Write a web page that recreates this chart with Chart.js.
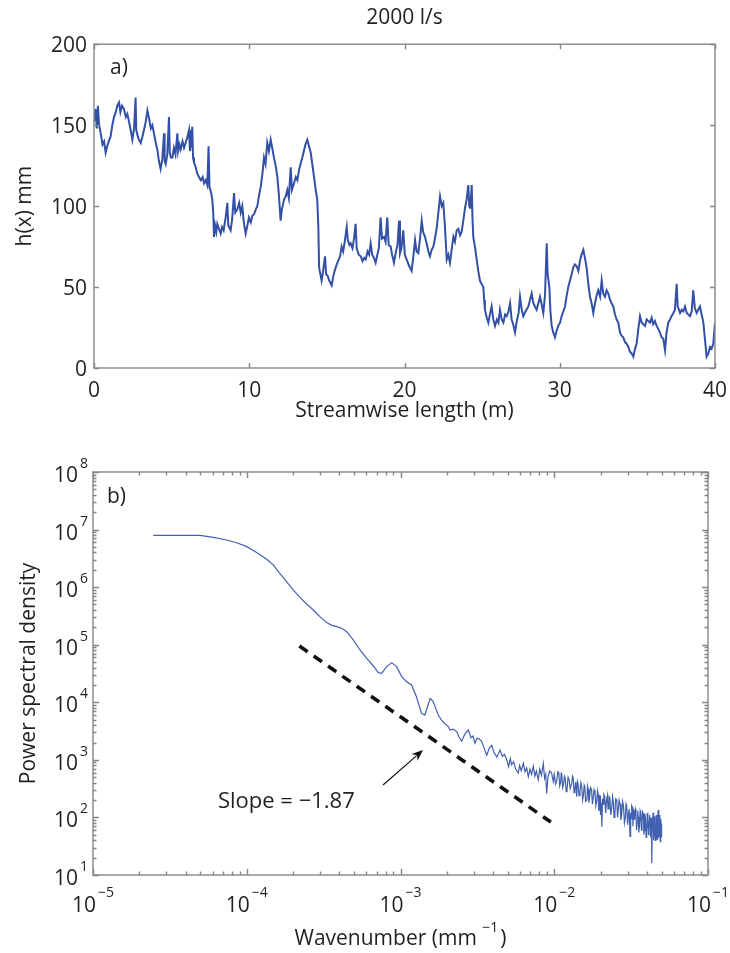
<!DOCTYPE html>
<html>
<head>
<meta charset="utf-8">
<title>Bed profile and spectrum, 2000 l/s</title>
<script src="https://cdn.jsdelivr.net/npm/chart.js@4.4.0/dist/chart.umd.min.js"></script>
<style>
    html, body { margin: 0; padding: 0; background: #fff; }
    #page { position: relative; width: 730px; height: 953px; }
    #profile-chart { position: absolute; left: 0; top: 0; }
    #spectrum-chart { position: absolute; left: 0; top: 430px; }
</style>
</head>
<body>
<div id="page">
    <canvas id="profile-chart" width="730" height="430"></canvas>
    <canvas id="spectrum-chart" width="730" height="523"></canvas>
</div>
<script>
// Bed elevation along the flume (m, mm)
const lengthM = [
    0.00, 0.10, 0.18, 0.25, 0.33, 0.43, 0.55, 0.65, 0.75, 0.85,
    0.95, 1.07, 1.18, 1.29, 1.40, 1.50, 1.61, 1.70, 1.80, 1.93,
    2.05, 2.15, 2.30, 2.40, 2.47, 2.58, 2.68, 2.72, 2.85, 3.01,
    3.12, 3.22, 3.33, 3.44, 3.55, 3.66, 3.76, 3.90, 4.00, 4.08,
    4.18, 4.29, 4.40, 4.51, 4.55, 4.62, 4.72, 4.83, 4.88, 4.95,
    5.05, 5.15, 5.25, 5.37, 5.42, 5.50, 5.58, 5.70, 5.80, 5.90,
    6.00, 6.12, 6.18, 6.25, 6.33, 6.38, 6.44, 6.55, 6.65, 6.76,
    6.88, 7.00, 7.09, 7.20, 7.30, 7.38, 7.44, 7.55, 7.62, 7.68,
    7.73, 7.80, 7.88, 7.94, 8.05, 8.16, 8.25, 8.35, 8.48, 8.59,
    8.65, 8.80, 8.90, 9.02, 9.10, 9.23, 9.35, 9.45, 9.55, 9.65,
    9.77, 9.88, 9.98, 10.10, 10.20, 10.31, 10.42, 10.52, 10.62, 10.74,
    10.85, 10.95, 11.05, 11.16, 11.27, 11.38, 11.48, 11.59, 11.70, 11.81,
    11.90, 12.02, 12.10, 12.24, 12.35, 12.45, 12.55, 12.67, 12.75, 12.88,
    13.00, 13.10, 13.20, 13.30, 13.42, 13.52, 13.62, 13.74, 13.85, 13.96,
    14.06, 14.17, 14.28, 14.38, 14.45, 14.50, 14.58, 14.66, 14.76, 14.88,
    14.95, 15.05, 15.15, 15.31, 15.40, 15.50, 15.60, 15.72, 15.85, 15.95,
    16.05, 16.15, 16.28, 16.35, 16.45, 16.53, 16.65, 16.75, 16.85, 16.92,
    17.05, 17.18, 17.30, 17.40, 17.50, 17.62, 17.72, 17.82, 17.92, 18.03,
    18.14, 18.25, 18.35, 18.46, 18.55, 18.68, 18.78, 18.89, 18.98, 19.11,
    19.20, 19.32, 19.45, 19.55, 19.65, 19.71, 19.80, 19.92, 20.02, 20.14,
    20.30, 20.46, 20.56, 20.68, 20.78, 20.89, 21.00, 21.11, 21.20, 21.32,
    21.45, 21.54, 21.64, 21.75, 21.86, 21.96, 22.07, 22.18, 22.29, 22.40,
    22.50, 22.60, 22.72, 22.82, 22.93, 23.05, 23.15, 23.25, 23.36, 23.47,
    23.58, 23.68, 23.80, 23.90, 24.00, 24.11, 24.17, 24.22, 24.28, 24.33,
    24.38, 24.43, 24.55, 24.65, 24.75, 24.86, 24.96, 25.08, 25.13, 25.18,
    25.30, 25.40, 25.50, 25.61, 25.72, 25.83, 25.95, 26.05, 26.15, 26.26,
    26.37, 26.48, 26.58, 26.70, 26.80, 26.90, 27.00, 27.12, 27.25, 27.35,
    27.44, 27.55, 27.65, 27.80, 27.98, 28.08, 28.19, 28.30, 28.40, 28.51,
    28.62, 28.73, 28.84, 28.94, 29.05, 29.16, 29.22, 29.33, 29.40, 29.48,
    29.58, 29.69, 29.80, 29.90, 30.02, 30.12, 30.23, 30.34, 30.45, 30.55,
    30.66, 30.77, 30.87, 30.97, 31.08, 31.20, 31.30, 31.40, 31.52, 31.62,
    31.73, 31.84, 31.95, 32.05, 32.16, 32.27, 32.38, 32.48, 32.60, 32.70,
    32.80, 32.91, 33.02, 33.13, 33.24, 33.34, 33.45, 33.56, 33.66, 33.77,
    33.88, 33.98, 34.09, 34.20, 34.31, 34.42, 34.52, 34.63, 34.74, 34.85,
    34.95, 35.06, 35.17, 35.28, 35.38, 35.49, 35.60, 35.70, 35.81, 35.92,
    36.02, 36.13, 36.24, 36.35, 36.45, 36.56, 36.67, 36.78, 36.88, 36.99,
    37.10, 37.20, 37.32, 37.42, 37.53, 37.60, 37.75, 37.86, 37.96, 38.07,
    38.18, 38.28, 38.39, 38.50, 38.60, 38.70, 38.82, 38.92, 39.03, 39.14,
    39.25, 39.35, 39.46, 39.57, 39.68, 39.78, 39.89, 40.00
];
const heightMm = [
    152, 160, 148, 162, 150, 145, 138, 140, 133, 137,
    140, 143, 150, 155, 158, 162, 164, 158, 162, 160,
    155, 157, 150, 145, 141, 148, 167, 147, 142, 139,
    143, 147, 152, 159, 154, 148, 150, 143, 138, 135,
    128, 123, 129, 145, 128, 126, 132, 155, 133, 130,
    130, 136, 132, 145, 134, 138, 135, 140, 136, 139,
    142, 147, 134, 138, 149, 130, 127, 124, 120, 118,
    116, 118, 114, 116, 113, 137, 112, 108, 104, 96,
    81, 88, 84, 89, 86, 83, 87, 85, 93, 102,
    88, 85, 92, 108, 96, 98, 102, 96, 100, 90,
    83, 88, 93, 90, 94, 95, 98, 100, 106, 112,
    120, 130, 126, 139, 134, 141, 136, 130, 125, 118,
    108, 91, 98, 104, 106, 110, 105, 124, 110, 114,
    118, 116, 122, 126, 130, 134, 138, 141, 137, 133,
    126, 118, 110, 104, 87, 62, 58, 54, 60, 69,
    58, 57, 54, 51, 56, 60, 63, 66, 69, 75,
    72, 78, 87, 79, 76, 77, 74, 80, 89, 74,
    70, 69, 66, 68, 67, 72, 70, 77, 70, 68,
    65, 70, 74, 93, 80, 81, 78, 93, 76, 75,
    70, 65, 72, 76, 91, 71, 74, 85, 70, 67,
    63, 60, 68, 79, 72, 71, 80, 91, 84, 81,
    76, 72, 69, 73, 75, 80, 86, 96, 106, 100,
    102, 88, 67, 70, 65, 74, 81, 78, 85, 86,
    82, 84, 92, 99, 104, 113, 100, 99, 105, 113,
    92, 81, 74, 67, 60, 54, 52, 50, 42, 36,
    31, 28, 33, 38, 30, 26, 30, 28, 36, 30,
    28, 33, 32, 35, 40, 30, 27, 22, 30, 34,
    44, 36, 32, 35, 38, 42, 46, 40, 38, 36,
    40, 44, 39, 34, 45, 77, 58, 50, 35, 26,
    22, 19, 23, 26, 28, 32, 35, 38, 45, 50,
    54, 58, 62, 64, 63, 60, 66, 70, 73, 68,
    62, 52, 44, 40, 34, 40, 45, 48, 44, 54,
    46, 44, 48, 46, 42, 40, 38, 33, 30, 28,
    22, 20, 19, 16, 15, 13, 10, 9, 7, 12,
    15, 24, 32, 28, 27, 26, 30, 29, 28, 31,
    27, 29, 26, 24, 22, 19, 18, 11, 22, 28,
    30, 32, 34, 36, 52, 38, 34, 36, 35, 38,
    34, 33, 32, 35, 48, 37, 34, 36, 38, 33,
    28, 18, 7, 9, 13, 12, 15, 28
];
const lengthTicks = [0, 10, 20, 30, 40];
const heightTicks = [0, 50, 100, 150, 200];

// Power spectral density against wavenumber (mm^-1)
const wavenumber = [
    2.47e-5, 3.33e-5, 4.97e-5, 6.06e-5, 7.40e-5, 8.60e-5, 1.00e-4, 1.16e-4, 1.35e-4, 1.49e-4,
    1.64e-4, 1.82e-4, 2.01e-4, 2.22e-4, 2.45e-4, 2.71e-4, 2.99e-4, 3.31e-4, 3.57e-4, 3.85e-4,
    4.14e-4, 4.47e-4, 4.93e-4, 5.45e-4, 6.03e-4, 6.66e-4, 7.18e-4, 7.54e-4, 8.13e-4, 8.76e-4,
    9.44e-4, 1.018e-3, 1.096e-3, 1.18e-3, 1.27e-3, 1.37e-3, 1.44e-3, 1.56e-3, 1.63e-3, 1.76e-3,
    1.85e-3, 1.95e-3, 2.03e-3, 2.10e-3, 2.20e-3, 2.32e-3, 2.40e-3, 2.50e-3, 2.62e-3, 2.76e-3,
    2.88e-3, 2.96e-3, 3.05e-3, 3.15e-3, 3.25e-3, 3.37e-3, 3.50e-3, 3.64e-3, 3.78e-3, 3.92e-3,
    4.05e-3, 4.23e-3, 4.35e-3, 4.44e-3, 4.60e-3, 4.75e-3, 4.91e-3, 5.05e-3, 5.18e-3, 5.28e-3,
    5.45e-3, 5.60e-3, 5.83e-3, 5.95e-3, 6.10e-3, 6.30e-3, 6.45e-3, 6.62e-3, 6.78e-3, 6.95e-3,
    7.12e-3, 7.31e-3, 7.48e-3, 7.65e-3, 7.87e-3, 8.05e-3, 8.25e-3, 8.49e-3, 8.65e-3, 8.80e-3,
    8.93e-3, 9.10e-3, 9.35e-3, 9.62e-3, 9.85e-3,
    1.00e-2, 1.02e-2, 1.04e-2, 1.055e-2, 1.07e-2, 1.085e-2, 1.10e-2, 1.11e-2, 1.12e-2, 1.135e-2,
    1.15e-2, 1.165e-2, 1.18e-2, 1.195e-2, 1.21e-2, 1.23e-2, 1.25e-2, 1.27e-2, 1.30e-2, 1.315e-2,
    1.33e-2, 1.345e-2, 1.36e-2, 1.38e-2, 1.40e-2, 1.415e-2, 1.43e-2, 1.45e-2, 1.47e-2, 1.49e-2,
    1.51e-2, 1.53e-2, 1.55e-2, 1.565e-2, 1.58e-2, 1.60e-2, 1.63e-2, 1.645e-2, 1.66e-2, 1.68e-2,
    1.70e-2, 1.72e-2, 1.75e-2, 1.77e-2, 1.79e-2, 1.815e-2, 1.84e-2, 1.865e-2, 1.89e-2, 1.91e-2,
    1.93e-2, 1.95e-2, 1.97e-2, 1.985e-2, 2.00e-2, 2.02e-2, 2.04e-2, 2.06e-2, 2.08e-2, 2.10e-2,
    2.13e-2, 2.16e-2, 2.19e-2, 2.215e-2, 2.24e-2, 2.27e-2, 2.30e-2, 2.33e-2, 2.37e-2, 2.395e-2,
    2.42e-2, 2.45e-2, 2.48e-2, 2.51e-2, 2.55e-2, 2.58e-2, 2.61e-2, 2.64e-2, 2.68e-2, 2.71e-2,
    2.75e-2, 2.78e-2, 2.82e-2, 2.86e-2, 2.90e-2, 2.93e-2, 2.96e-2, 3.00e-2, 3.03e-2, 3.07e-2,
    3.11e-2, 3.14e-2, 3.16e-2, 3.19e-2, 3.22e-2, 3.25e-2, 3.27e-2, 3.30e-2, 3.33e-2, 3.37e-2,
    3.40e-2, 3.43e-2, 3.46e-2, 3.49e-2, 3.52e-2, 3.55e-2, 3.58e-2, 3.62e-2, 3.65e-2, 3.69e-2,
    3.72e-2, 3.75e-2, 3.79e-2, 3.83e-2, 3.86e-2, 3.89e-2, 3.92e-2, 3.96e-2, 3.99e-2, 4.03e-2,
    4.06e-2, 4.10e-2, 4.13e-2, 4.17e-2, 4.20e-2, 4.23e-2, 4.25e-2, 4.28e-2, 4.31e-2, 4.34e-2,
    4.36e-2, 4.39e-2, 4.42e-2, 4.45e-2, 4.47e-2, 4.50e-2, 4.52e-2, 4.55e-2, 4.58e-2, 4.61e-2,
    4.63e-2, 4.66e-2, 4.69e-2, 4.72e-2, 4.75e-2, 4.78e-2, 4.80e-2, 4.83e-2, 4.86e-2, 4.89e-2,
    4.91e-2, 4.94e-2, 4.96e-2, 4.98e-2, 5.00e-2
];
const psd = [
    7.9e6, 7.95e6, 7.9e6, 7.3e6, 6.6e6, 5.9e6, 5.05e6, 4.0e6, 3.04e6, 2.42e6,
    1.74e6, 1.24e6, 8.9e5, 6.65e5, 5.1e5, 4.0e5, 3.07e5, 2.42e5, 2.17e5, 2.06e5,
    1.93e5, 1.68e5, 1.21e5, 8.1e4, 5.8e4, 4.27e4, 3.27e4, 3.18e4, 4.16e4, 4.88e4,
    4.16e4, 2.79e4, 2.28e4, 2.0e4, 1.25e4, 6.4e3, 6.0e3, 1.17e4, 1.03e4, 6.0e3,
    4.9e3, 4.2e3, 3.9e3, 3.3e3, 3.4e3, 3.1e3, 2.5e3, 2.1e3, 2.8e3, 3.3e3,
    2.4e3, 2.6e3, 1.95e3, 2.4e3, 2.3e3, 2.1e3, 1.6e3, 1.2e3, 1.6e3, 1.8e3,
    1.35e3, 1.12e3, 1.3e3, 1.48e3, 1.15e3, 1.25e3, 1.0e3, 760, 1050, 820,
    930, 700, 590, 800, 650, 870, 620, 720, 510, 690,
    560, 780, 520, 640, 450, 700, 540, 870, 480, 560,
    260, 500, 640, 590, 420,
    560, 380, 450, 620, 600, 350, 400, 580, 550, 330,
    380, 520, 470, 280, 300, 500, 450, 320, 390, 520,
    480, 270, 300, 410, 230, 420, 380, 240, 280, 400,
    340, 200, 250, 360, 330, 190, 200, 350, 310, 180,
    230, 330, 300, 170, 210, 300, 260, 160, 200, 290,
    250, 130, 150, 240, 110, 180, 69, 210, 170, 250,
    230, 120, 200, 240, 140, 230, 220, 110, 155, 230,
    190, 100, 120, 210, 200, 100, 140, 200, 170, 90,
    117, 190, 160, 80, 100, 170, 155, 75, 110, 140,
    47, 120, 95, 160, 150, 70, 135, 110, 90, 140,
    125, 60, 80, 130, 102, 55, 70, 130, 120, 60,
    85, 125, 117, 50, 60, 115, 95, 45, 52, 120,
    100, 50, 65, 110, 89, 45, 55, 100, 16, 90,
    60, 120, 110, 40, 55, 105, 79, 40, 45, 110,
    90, 42, 50, 100, 135, 45, 55, 110, 85, 38,
    40, 95, 75, 45, 69
];
// fitted power law, slope -1.87
const slopeK = [2.2e-4, 9.5e-3];
const slopePsd = [9.5e4, 83];
const slopeLabel = 'Slope = \u22121.87';
const wavenumberExps = [-5, -4, -3, -2, -1];
const psdExps = [1, 2, 3, 4, 5, 6, 7, 8];

const FONT = '"Open Sans", "DejaVu Sans", sans-serif';
const INK = '#231f20';
const AXIS = '#868686';
const PROFILE_BLUE = 'rgb(50, 80, 165)';
const SPECTRUM_BLUE = 'rgb(66, 96, 176)';

Chart.defaults.font.family = FONT;
Chart.defaults.color = INK;

function fnt(size) {
    return size + 'px ' + FONT;
}

// MATLAB style box with inward ticks on all four sides
function drawBox(chart, xMarks, yMarks) {
    const { ctx, chartArea: a, scales } = chart;
    ctx.save();
    ctx.strokeStyle = AXIS;
    ctx.lineWidth = 1.4;
    ctx.beginPath();
    xMarks.forEach(([v, len]) => {
        const x = Math.round(scales.x.getPixelForValue(v)) + 0.5;
        ctx.moveTo(x, a.bottom); ctx.lineTo(x, a.bottom - len);
        ctx.moveTo(x, a.top); ctx.lineTo(x, a.top + len);
    });
    yMarks.forEach(([v, len]) => {
        const y = Math.round(scales.y.getPixelForValue(v)) + 0.5;
        ctx.moveTo(a.left, y); ctx.lineTo(a.left + len, y);
        ctx.moveTo(a.right, y); ctx.lineTo(a.right - len, y);
    });
    ctx.stroke();
    ctx.strokeRect(a.left, a.top, a.right - a.left, a.bottom - a.top);
    ctx.restore();
}

function logMarks(fromExp, toExp) {
    const marks = [];
    for (let e = fromExp; e <= toExp; e++) {
        marks.push([Math.pow(10, e), 6]);
        if (e === toExp) break;
        for (let m = 2; m <= 9; m++) marks.push([m * Math.pow(10, e), 3.5]);
    }
    return marks;
}

// "10" with a raised exponent
function drawPower(ctx, exp, x, baseY, expY, align) {
    const expText = exp < 0 ? '\u2212' + Math.abs(exp) : String(exp);
    ctx.font = fnt(21);
    const wBase = ctx.measureText('10').width;
    ctx.font = fnt(14);
    const wExp = ctx.measureText(expText).width;
    const gap = 2;
    const total = wBase + gap + wExp;
    const start = align === 'center' ? x - total / 2 : x - total;
    ctx.textAlign = 'left';
    ctx.textBaseline = 'alphabetic';
    ctx.font = fnt(21);
    ctx.fillText('10', start, baseY);
    ctx.font = fnt(14);
    ctx.fillText(expText, start + wBase + gap, expY);
}

const profileBox = {
    id: 'profileBox',
    afterDatasetsDraw(chart) {
        drawBox(chart,
            lengthTicks.map(v => [v, 5]),
            heightTicks.map(v => [v, 5]));
        const { ctx, chartArea: a } = chart;
        ctx.save();
        ctx.fillStyle = INK;
        ctx.font = fnt(21);
        ctx.textBaseline = 'middle';
        ctx.fillText('a)', a.left + 16, a.top + 24);
        ctx.restore();
    }
};

const spectrumBox = {
    id: 'spectrumBox',
    afterDatasetsDraw(chart) {
        const { ctx, chartArea: a, scales } = chart;
        const xs = scales.x, ys = scales.y;
        drawBox(chart, logMarks(-5, -1), logMarks(1, 8));

        ctx.save();
        ctx.fillStyle = INK;
        wavenumberExps.forEach(e => {
            drawPower(ctx, e, xs.getPixelForValue(Math.pow(10, e)), a.bottom + 37, a.bottom + 22, 'center');
        });
        psdExps.forEach(e => {
            const y = ys.getPixelForValue(Math.pow(10, e));
            drawPower(ctx, e, a.left - 5, y + 10, y - 4, 'right');
        });

        // axis title with superscript unit
        const main = 'Wavenumber (mm ';
        ctx.font = fnt(21);
        const wMain = ctx.measureText(main).width;
        const wClose = ctx.measureText(')').width;
        ctx.font = fnt(14);
        const wSup = ctx.measureText('\u22121').width;
        let tx = (a.left + a.right) / 2 - (wMain + wSup + 2 + wClose) / 2;
        ctx.textAlign = 'left';
        ctx.textBaseline = 'alphabetic';
        ctx.font = fnt(21);
        ctx.fillText(main, tx, a.bottom + 70);
        ctx.font = fnt(14);
        ctx.fillText('\u22121', tx + wMain, a.bottom + 57);
        ctx.font = fnt(21);
        ctx.fillText(')', tx + wMain + wSup + 2, a.bottom + 70);

        ctx.textBaseline = 'middle';
        ctx.fillText('b)', a.left + 14, a.top + 25);

        // slope annotation and arrow
        ctx.font = fnt(22);
        ctx.fillText(slopeLabel, xs.getPixelForValue(6.5e-5), ys.getPixelForValue(185));

        const x0 = xs.getPixelForValue(7.7e-4), y0 = ys.getPixelForValue(366);
        const x1 = xs.getPixelForValue(1.4e-3), y1 = ys.getPixelForValue(1480);
        const ang = Math.atan2(y1 - y0, x1 - x0);
        const head = 12;
        ctx.strokeStyle = '#111';
        ctx.lineWidth = 1.2;
        ctx.beginPath();
        ctx.moveTo(x0, y0);
        ctx.lineTo(x1 - head * 0.7 * Math.cos(ang), y1 - head * 0.7 * Math.sin(ang));
        ctx.stroke();
        ctx.fillStyle = '#111';
        ctx.beginPath();
        ctx.moveTo(x1, y1);
        ctx.lineTo(x1 - head * Math.cos(ang - 0.38), y1 - head * Math.sin(ang - 0.38));
        ctx.lineTo(x1 - head * 0.65 * Math.cos(ang), y1 - head * 0.65 * Math.sin(ang));
        ctx.lineTo(x1 - head * Math.cos(ang + 0.38), y1 - head * Math.sin(ang + 0.38));
        ctx.closePath();
        ctx.fill();
        ctx.restore();
    }
};

function hiddenGrid() {
    return { display: false, drawTicks: false };
}

new Chart(document.getElementById('profile-chart'), {
    type: 'line',
    data: {
        datasets: [{
            data: lengthM.map((x, i) => ({ x: x, y: heightMm[i] })),
            borderColor: PROFILE_BLUE,
            borderWidth: 2,
            pointRadius: 0,
            tension: 0
        }]
    },
    options: {
        responsive: false,
        animation: false,
        layout: { padding: { top: 0, right: 15, bottom: 0, left: 0 } },
        plugins: {
            legend: { display: false },
            tooltip: { enabled: false },
            title: {
                display: true,
                text: '2000 l/s',
                fullSize: false,
                color: INK,
                font: { size: 21, weight: 'normal' },
                padding: { top: 5, bottom: 14 }
            }
        },
        scales: {
            x: {
                type: 'linear',
                min: 0,
                max: 40,
                grid: hiddenGrid(),
                border: { display: false },
                afterBuildTicks: s => { s.ticks = lengthTicks.map(v => ({ value: v })); },
                afterFit: s => { s.height = 62; s.paddingLeft = 0; s.paddingRight = 0; },
                ticks: { font: { size: 21 }, color: INK, padding: 10, maxRotation: 0, autoSkip: false },
                title: { display: true, text: 'Streamwise length (m)', color: INK, font: { size: 21 }, padding: { bottom: 6 } }
            },
            y: {
                type: 'linear',
                min: 0,
                max: 200,
                grid: hiddenGrid(),
                border: { display: false },
                afterBuildTicks: s => { s.ticks = heightTicks.map(v => ({ value: v })); },
                afterFit: s => { s.width = 94; s.paddingTop = 0; s.paddingBottom = 0; },
                ticks: { font: { size: 21 }, color: INK, padding: 7, labelOffset: 2 },
                title: { display: true, text: 'h(x) mm', color: INK, font: { size: 21 }, padding: { top: 12 } }
            }
        }
    },
    plugins: [profileBox]
});

new Chart(document.getElementById('spectrum-chart'), {
    type: 'line',
    data: {
        datasets: [{
            data: wavenumber.map((k, i) => ({ x: k, y: psd[i] })),
            borderColor: SPECTRUM_BLUE,
            borderWidth: 1.2,
            pointRadius: 0,
            tension: 0
        }, {
            data: slopeK.map((k, i) => ({ x: k, y: slopePsd[i] })),
            borderColor: '#111',
            borderWidth: 3.6,
            borderDash: [10, 7.5],
            pointRadius: 0
        }]
    },
    options: {
        responsive: false,
        animation: false,
        layout: { padding: { top: 42, right: 22, bottom: 0, left: 0 } },
        plugins: {
            legend: { display: false },
            tooltip: { enabled: false }
        },
        scales: {
            x: {
                type: 'logarithmic',
                min: 1e-5,
                max: 1e-1,
                grid: hiddenGrid(),
                border: { display: false },
                ticks: { display: false },
                afterFit: s => { s.height = 78; s.paddingLeft = 0; s.paddingRight = 0; }
            },
            y: {
                type: 'logarithmic',
                min: 10,
                max: 1e8,
                grid: hiddenGrid(),
                border: { display: false },
                ticks: { display: false },
                afterFit: s => { s.width = 93; s.paddingTop = 0; s.paddingBottom = 0; },
                title: { display: true, text: 'Power spectral density', color: INK, font: { size: 21 }, padding: { top: 16 } }
            }
        }
    },
    plugins: [spectrumBox]
});
</script>
</body>
</html>
